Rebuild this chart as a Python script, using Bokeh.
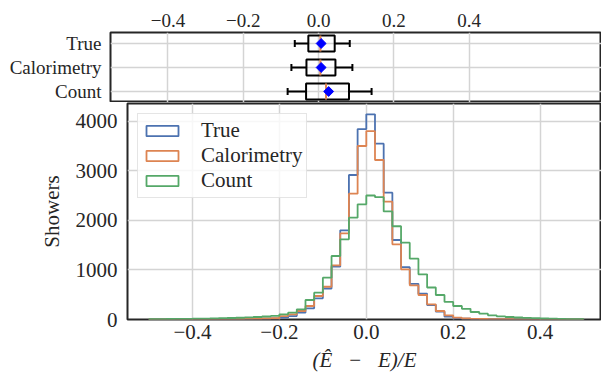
import numpy as np
from bokeh.plotting import figure
from bokeh.models import (Range1d, FixedTicker, CustomJSTickFormatter, Legend,
                          LegendItem)
from bokeh.embed import file_html
from bokeh.resources import INLINE

# ---------------- data ----------------
bin_start = -0.5
bin_end = 0.5
n_bins = 50

true_counts = [2, 2, 3, 3, 4, 4, 5, 5, 6, 7, 8, 10, 12, 15, 20,
               36, 70, 137, 225, 427, 625, 1065, 1798, 2913, 3840,
               4137, 3545, 2557, 1603, 1055, 720, 520, 292, 158, 57,
               24, 15, 10, 8, 6, 5, 4, 3, 3, 2, 2, 1, 1, 1, 1]
calo_counts = [3, 3, 4, 4, 5, 6, 6, 7, 8, 9, 10, 12, 15, 20, 25,
               70, 104, 171, 272, 474, 660, 1090, 1738, 2537, 3498,
               3800, 3216, 2375, 1515, 1012, 690, 494, 306, 171, 84,
               37, 20, 14, 10, 8, 6, 5, 4, 3, 3, 2, 2, 1, 1, 1]
count_counts = [6, 8, 10, 12, 14, 16, 18, 22, 26, 30, 35, 42, 50, 60, 72,
                104, 137, 205, 393, 541, 843, 1280, 1617, 2052, 2322,
                2500, 2466, 2180, 1880, 1548, 1226, 911, 645, 494, 355,
                272, 215, 151, 117, 84, 64, 50, 40, 32, 26, 20, 16, 12, 9, 7]
series_names = ["True", "Calorimetry", "Count"]

box_labels = ["True", "Calorimetry", "Count"]
whisker_lo = [-0.063, -0.072, -0.082]
box_q1 = [-0.027, -0.032, -0.033]
box_median = [0.005, 0.005, 0.020]
box_q3 = [0.043, 0.045, 0.081]
whisker_hi = [0.083, 0.090, 0.141]
box_mean = [0.007, 0.007, 0.027]

x_ticks = [-0.4, -0.2, 0.0, 0.2, 0.4]
y_ticks = [0, 1000, 2000, 3000, 4000]

# ---------------- style ----------------
FONT = "Liberation Serif"
TXT = "#262626"
GRID = "#d4d4d4"
COLORS = ["#4c72b0", "#dd8452", "#55a868"]
fmt_js = "return tick.toFixed(1).replace('-', '\\u2212')"


def style_axis(ax, size):
    ax.axis_line_color = None
    ax.major_tick_line_color = None
    ax.minor_tick_line_color = None
    ax.major_tick_out = 0
    ax.major_tick_in = 0
    ax.minor_tick_out = 0
    ax.minor_tick_in = 0
    ax.major_label_text_font = FONT
    ax.major_label_text_font_size = size
    ax.major_label_text_color = TXT
    ax.axis_label_text_font = FONT
    ax.axis_label_text_font_size = "21px"
    ax.axis_label_text_color = TXT


# ---------------- top panel: box plots ----------------
ypos = np.arange(len(box_labels), 0, -1).astype(float)

top = figure(width=601, height=102,
             min_border_left=110, min_border_right=0,
             min_border_top=32, min_border_bottom=0,
             x_range=Range1d(-0.5525, 0.7517), y_range=Range1d(0.5417, 3.4583),
             x_axis_location="above", output_backend="svg",
             toolbar_location=None, background_fill_color="white",
             border_fill_color="white")
top.outline_line_color = TXT
top.outline_line_width = 2

top.xaxis.ticker = FixedTicker(ticks=x_ticks)
top.xaxis.formatter = CustomJSTickFormatter(code=fmt_js)
top.yaxis.ticker = FixedTicker(ticks=ypos.tolist())
top.yaxis.major_label_overrides = {float(k): v for k, v in zip(ypos, box_labels)}
style_axis(top.xaxis, "19px")
style_axis(top.yaxis, "19px")
top.xaxis.major_label_standoff = 6
top.yaxis.major_label_standoff = 9
top.xgrid.grid_line_color = GRID
top.xgrid.grid_line_width = 1.5
top.ygrid.grid_line_color = GRID
top.ygrid.grid_line_width = 1.5

half_box = 0.333
half_cap = 0.15
top.segment(x0=whisker_lo, y0=ypos, x1=box_q1, y1=ypos, line_color="black", line_width=2)
top.segment(x0=box_q3, y0=ypos, x1=whisker_hi, y1=ypos, line_color="black", line_width=2)
top.segment(x0=whisker_lo, y0=ypos - half_cap, x1=whisker_lo, y1=ypos + half_cap,
            line_color="black", line_width=2)
top.segment(x0=whisker_hi, y0=ypos - half_cap, x1=whisker_hi, y1=ypos + half_cap,
            line_color="black", line_width=2)
top.hbar(y=ypos, left=box_q1, right=box_q3, height=2 * half_box,
         fill_color=None, line_color="black", line_width=2)
top.segment(x0=box_median, y0=ypos - half_box, x1=box_median, y1=ypos + half_box,
            line_color="#dd8452", line_width=2)
top.scatter(x=box_mean, y=ypos, marker="square", angle=np.pi / 4, size=7,
            fill_color="#0000ff", line_color="#0000ff")

# ---------------- bottom panel: histograms ----------------
edges = np.linspace(bin_start, bin_end, n_bins + 1)

p = figure(width=601, height=281,
           min_border_left=127, min_border_right=0,
           min_border_top=1, min_border_bottom=64,
           x_range=Range1d(-0.5497, 0.5414), y_range=Range1d(0, 4355),
           output_backend="svg", toolbar_location=None,
           background_fill_color="white", border_fill_color="white")
p.outline_line_color = TXT
p.outline_line_width = 2

p.xaxis.ticker = FixedTicker(ticks=x_ticks)
p.xaxis.formatter = CustomJSTickFormatter(code=fmt_js)
p.yaxis.ticker = FixedTicker(ticks=y_ticks)
style_axis(p.xaxis, "21px")
style_axis(p.yaxis, "21px")
p.xaxis.major_label_standoff = 5
p.yaxis.major_label_standoff = 10
p.xaxis.axis_label = "(\u00ca \u2002\u2212\u2002 E)/E"
p.xaxis.axis_label_text_font_style = "italic"
p.xaxis.axis_label_standoff = 6
p.yaxis.axis_label = "Showers"
p.yaxis.axis_label_text_font_style = "normal"
p.yaxis.axis_label_standoff = 9
p.xgrid.grid_line_color = GRID
p.xgrid.grid_line_width = 1.5
p.ygrid.grid_line_color = GRID
p.ygrid.grid_line_width = 1.5

items = []
for name, counts, color in zip(series_names, [true_counts, calo_counts, count_counts], COLORS):
    counts = np.asarray(counts, dtype=float)
    xs = np.concatenate([[edges[0]], edges])
    ys = np.concatenate([[0.0], counts, [0.0]])
    p.step(x=xs, y=ys, mode="after", line_color=color, line_width=1.8)
    proxy = p.quad(left=edges[:-1], right=edges[1:], bottom=0, top=counts,
                   fill_alpha=0, line_color=color, line_width=1.8, visible=False)
    items.append(LegendItem(label=name, renderers=[proxy]))

legend = Legend(items=items, location="top_left")
legend.click_policy = "none"
legend.margin = 10
legend.padding = 4
legend.spacing = 0
legend.glyph_width = 40
legend.glyph_height = 13
legend.label_height = 20
legend.label_standoff = 19
legend.label_text_font = FONT
legend.label_text_font_size = "21px"
legend.label_text_color = TXT
legend.border_line_color = "#cccccc"
legend.border_line_width = 1
legend.background_fill_color = "white"
legend.background_fill_alpha = 0.8
p.add_layout(legend)

# two independent roots stacked, so that each frame keeps its own left edge
open("out.html", "w").write(file_html([top, p], INLINE))
